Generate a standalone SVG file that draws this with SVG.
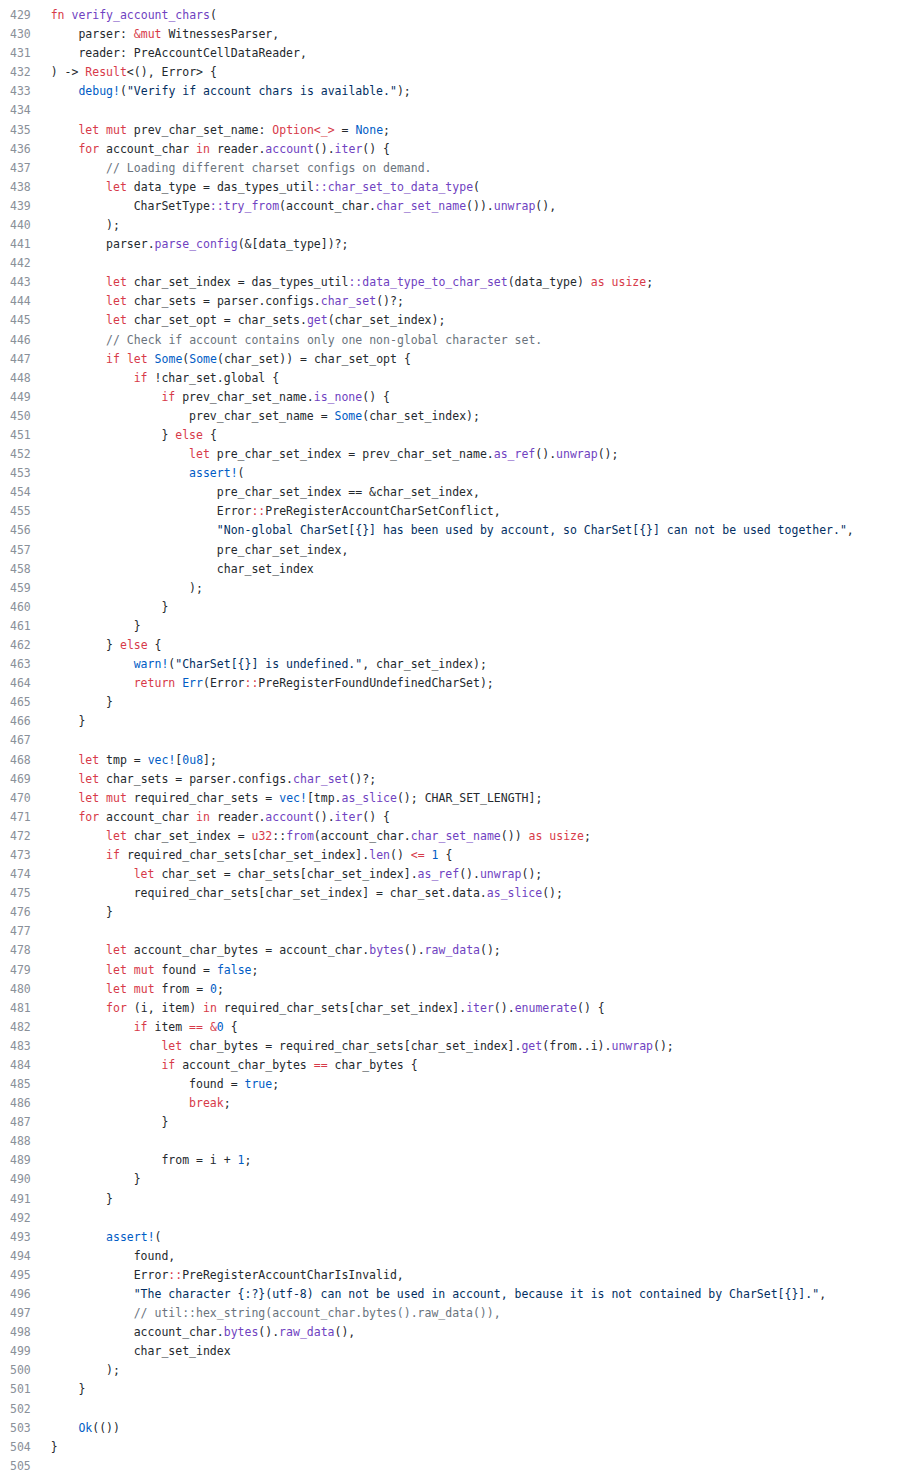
<svg xmlns="http://www.w3.org/2000/svg" width="922" height="1481" viewBox="0 0 922 1481">
<style>
text{font-family:"DejaVu Sans Mono","Liberation Mono",monospace;font-size:11.5px;white-space:pre;fill:#24292e}
.n{fill:#8a9099}
.k{fill:#d73a49}
.f{fill:#6f42c1}
.b{fill:#005cc5}
.s{fill:#032f62}
.cm{fill:#6a737d}
</style>
<rect width="922" height="1481" fill="#ffffff"/>
<g id="gutter">
<text class="n" x="10" y="19">429</text>
<text class="n" x="10" y="38.09">430</text>
<text class="n" x="10" y="57.18">431</text>
<text class="n" x="10" y="76.27">432</text>
<text class="n" x="10" y="95.36">433</text>
<text class="n" x="10" y="114.45">434</text>
<text class="n" x="10" y="133.54">435</text>
<text class="n" x="10" y="152.63">436</text>
<text class="n" x="10" y="171.72">437</text>
<text class="n" x="10" y="190.81">438</text>
<text class="n" x="10" y="209.9">439</text>
<text class="n" x="10" y="228.99">440</text>
<text class="n" x="10" y="248.08">441</text>
<text class="n" x="10" y="267.17">442</text>
<text class="n" x="10" y="286.26">443</text>
<text class="n" x="10" y="305.35">444</text>
<text class="n" x="10" y="324.44">445</text>
<text class="n" x="10" y="343.53">446</text>
<text class="n" x="10" y="362.62">447</text>
<text class="n" x="10" y="381.71">448</text>
<text class="n" x="10" y="400.8">449</text>
<text class="n" x="10" y="419.89">450</text>
<text class="n" x="10" y="438.98">451</text>
<text class="n" x="10" y="458.07">452</text>
<text class="n" x="10" y="477.16">453</text>
<text class="n" x="10" y="496.25">454</text>
<text class="n" x="10" y="515.34">455</text>
<text class="n" x="10" y="534.43">456</text>
<text class="n" x="10" y="553.52">457</text>
<text class="n" x="10" y="572.61">458</text>
<text class="n" x="10" y="591.7">459</text>
<text class="n" x="10" y="610.79">460</text>
<text class="n" x="10" y="629.88">461</text>
<text class="n" x="10" y="648.97">462</text>
<text class="n" x="10" y="668.06">463</text>
<text class="n" x="10" y="687.15">464</text>
<text class="n" x="10" y="706.24">465</text>
<text class="n" x="10" y="725.33">466</text>
<text class="n" x="10" y="744.42">467</text>
<text class="n" x="10" y="763.51">468</text>
<text class="n" x="10" y="782.6">469</text>
<text class="n" x="10" y="801.69">470</text>
<text class="n" x="10" y="820.78">471</text>
<text class="n" x="10" y="839.87">472</text>
<text class="n" x="10" y="858.96">473</text>
<text class="n" x="10" y="878.05">474</text>
<text class="n" x="10" y="897.14">475</text>
<text class="n" x="10" y="916.23">476</text>
<text class="n" x="10" y="935.32">477</text>
<text class="n" x="10" y="954.41">478</text>
<text class="n" x="10" y="973.5">479</text>
<text class="n" x="10" y="992.59">480</text>
<text class="n" x="10" y="1011.68">481</text>
<text class="n" x="10" y="1030.77">482</text>
<text class="n" x="10" y="1049.86">483</text>
<text class="n" x="10" y="1068.95">484</text>
<text class="n" x="10" y="1088.04">485</text>
<text class="n" x="10" y="1107.13">486</text>
<text class="n" x="10" y="1126.22">487</text>
<text class="n" x="10" y="1145.31">488</text>
<text class="n" x="10" y="1164.4">489</text>
<text class="n" x="10" y="1183.49">490</text>
<text class="n" x="10" y="1202.58">491</text>
<text class="n" x="10" y="1221.67">492</text>
<text class="n" x="10" y="1240.76">493</text>
<text class="n" x="10" y="1259.85">494</text>
<text class="n" x="10" y="1278.94">495</text>
<text class="n" x="10" y="1298.03">496</text>
<text class="n" x="10" y="1317.12">497</text>
<text class="n" x="10" y="1336.21">498</text>
<text class="n" x="10" y="1355.3">499</text>
<text class="n" x="10" y="1374.39">500</text>
<text class="n" x="10" y="1393.48">501</text>
<text class="n" x="10" y="1412.57">502</text>
<text class="n" x="10" y="1431.66">503</text>
<text class="n" x="10" y="1450.75">504</text>
<text class="n" x="10" y="1469.84">505</text>
</g>
<g id="code">
<text x="50.7" y="19"><tspan class="k">fn</tspan> <tspan class="f">verify_account_chars</tspan>(</text>
<text x="78.4" y="38.09">parser: <tspan class="k">&amp;mut</tspan> WitnessesParser,</text>
<text x="78.4" y="57.18">reader: PreAccountCellDataReader,</text>
<text x="50.7" y="76.27">) -&gt; <tspan class="k">Result</tspan>&lt;(), Error&gt; {</text>
<text x="78.4" y="95.36"><tspan class="b">debug!</tspan>(<tspan class="s">"Verify if account chars is available."</tspan>);</text>
<text x="78.4" y="133.54"><tspan class="k">let</tspan> <tspan class="k">mut</tspan> prev_char_set_name: <tspan class="k">Option&lt;_&gt;</tspan> = <tspan class="b">None</tspan>;</text>
<text x="78.4" y="152.63"><tspan class="k">for</tspan> account_char <tspan class="k">in</tspan> reader.<tspan class="f">account</tspan>().<tspan class="f">iter</tspan>() {</text>
<text x="106.1" y="171.72" class="cm">// Loading different charset configs on demand.</text>
<text x="106.1" y="190.81"><tspan class="k">let</tspan> data_type = das_types_util<tspan class="f">::char_set_to_data_type</tspan>(</text>
<text x="133.7" y="209.9">CharSetType<tspan class="f">::try_from</tspan>(account_char.<tspan class="f">char_set_name</tspan>()).<tspan class="f">unwrap</tspan>(),</text>
<text x="106.1" y="228.99">);</text>
<text x="106.1" y="248.08">parser.<tspan class="f">parse_config</tspan>(&amp;[data_type])?;</text>
<text x="106.1" y="286.26"><tspan class="k">let</tspan> char_set_index = das_types_util<tspan class="f">::data_type_to_char_set</tspan>(data_type) <tspan class="k">as</tspan> <tspan class="k">usize</tspan>;</text>
<text x="106.1" y="305.35"><tspan class="k">let</tspan> char_sets = parser.configs.<tspan class="f">char_set</tspan>()?;</text>
<text x="106.1" y="324.44"><tspan class="k">let</tspan> char_set_opt = char_sets.<tspan class="f">get</tspan>(char_set_index);</text>
<text x="106.1" y="343.53" class="cm">// Check if account contains only one non-global character set.</text>
<text x="106.1" y="362.62"><tspan class="k">if</tspan> <tspan class="k">let</tspan> <tspan class="b">Some</tspan>(<tspan class="b">Some</tspan>(char_set)) = char_set_opt {</text>
<text x="133.7" y="381.71"><tspan class="k">if</tspan> !char_set.global {</text>
<text x="161.4" y="400.8"><tspan class="k">if</tspan> prev_char_set_name.<tspan class="f">is_none</tspan>() {</text>
<text x="189.1" y="419.89">prev_char_set_name = <tspan class="b">Some</tspan>(char_set_index);</text>
<text x="161.4" y="438.98">} <tspan class="k">else</tspan> {</text>
<text x="189.1" y="458.07"><tspan class="k">let</tspan> pre_char_set_index = prev_char_set_name.<tspan class="f">as_ref</tspan>().<tspan class="f">unwrap</tspan>();</text>
<text x="189.1" y="477.16"><tspan class="b">assert!</tspan>(</text>
<text x="216.8" y="496.25">pre_char_set_index == &amp;char_set_index,</text>
<text x="216.8" y="515.34">Error<tspan class="k">::</tspan>PreRegisterAccountCharSetConflict,</text>
<text x="216.8" y="534.43"><tspan class="s">"Non-global CharSet[{}] has been used by account, so CharSet[{}] can not be used together."</tspan>,</text>
<text x="216.8" y="553.52">pre_char_set_index,</text>
<text x="216.8" y="572.61">char_set_index</text>
<text x="189.1" y="591.7">);</text>
<text x="161.4" y="610.79">}</text>
<text x="133.7" y="629.88">}</text>
<text x="106.1" y="648.97">} <tspan class="k">else</tspan> {</text>
<text x="133.7" y="668.06"><tspan class="b">warn!</tspan>(<tspan class="s">"CharSet[{}] is undefined."</tspan>, char_set_index);</text>
<text x="133.7" y="687.15"><tspan class="k">return</tspan> <tspan class="b">Err</tspan>(Error<tspan class="k">::</tspan>PreRegisterFoundUndefinedCharSet);</text>
<text x="106.1" y="706.24">}</text>
<text x="78.4" y="725.33">}</text>
<text x="78.4" y="763.51"><tspan class="k">let</tspan> tmp = <tspan class="b">vec!</tspan>[<tspan class="b">0u8</tspan>];</text>
<text x="78.4" y="782.6"><tspan class="k">let</tspan> char_sets = parser.configs.<tspan class="f">char_set</tspan>()?;</text>
<text x="78.4" y="801.69"><tspan class="k">let</tspan> <tspan class="k">mut</tspan> required_char_sets = <tspan class="b">vec!</tspan>[tmp.<tspan class="f">as_slice</tspan>(); CHAR_SET_LENGTH];</text>
<text x="78.4" y="820.78"><tspan class="k">for</tspan> account_char <tspan class="k">in</tspan> reader.<tspan class="f">account</tspan>().<tspan class="f">iter</tspan>() {</text>
<text x="106.1" y="839.87"><tspan class="k">let</tspan> char_set_index = <tspan class="k">u32</tspan>::<tspan class="f">from</tspan>(account_char.<tspan class="f">char_set_name</tspan>()) <tspan class="k">as</tspan> <tspan class="k">usize</tspan>;</text>
<text x="106.1" y="858.96"><tspan class="k">if</tspan> required_char_sets[char_set_index].<tspan class="f">len</tspan>() <tspan class="k">&lt;=</tspan> <tspan class="b">1</tspan> {</text>
<text x="133.7" y="878.05"><tspan class="k">let</tspan> char_set = char_sets[char_set_index].<tspan class="f">as_ref</tspan>().<tspan class="f">unwrap</tspan>();</text>
<text x="133.7" y="897.14">required_char_sets[char_set_index] = char_set.data.<tspan class="f">as_slice</tspan>();</text>
<text x="106.1" y="916.23">}</text>
<text x="106.1" y="954.41"><tspan class="k">let</tspan> account_char_bytes = account_char.<tspan class="f">bytes</tspan>().<tspan class="f">raw_data</tspan>();</text>
<text x="106.1" y="973.5"><tspan class="k">let</tspan> <tspan class="k">mut</tspan> found = <tspan class="b">false</tspan>;</text>
<text x="106.1" y="992.59"><tspan class="k">let</tspan> <tspan class="k">mut</tspan> from = <tspan class="b">0</tspan>;</text>
<text x="106.1" y="1011.68"><tspan class="k">for</tspan> (i, item) <tspan class="k">in</tspan> required_char_sets[char_set_index].<tspan class="f">iter</tspan>().<tspan class="f">enumerate</tspan>() {</text>
<text x="133.7" y="1030.77"><tspan class="k">if</tspan> item <tspan class="k">==</tspan> <tspan class="k">&amp;</tspan><tspan class="b">0</tspan> {</text>
<text x="161.4" y="1049.86"><tspan class="k">let</tspan> char_bytes = required_char_sets[char_set_index].<tspan class="f">get</tspan>(from..i).<tspan class="f">unwrap</tspan>();</text>
<text x="161.4" y="1068.95"><tspan class="k">if</tspan> account_char_bytes <tspan class="k">==</tspan> char_bytes {</text>
<text x="189.1" y="1088.04">found = <tspan class="b">true</tspan>;</text>
<text x="189.1" y="1107.13"><tspan class="k">break</tspan>;</text>
<text x="161.4" y="1126.22">}</text>
<text x="161.4" y="1164.4">from = i + <tspan class="b">1</tspan>;</text>
<text x="133.7" y="1183.49">}</text>
<text x="106.1" y="1202.58">}</text>
<text x="106.1" y="1240.76"><tspan class="b">assert!</tspan>(</text>
<text x="133.7" y="1259.85">found,</text>
<text x="133.7" y="1278.94">Error<tspan class="k">::</tspan>PreRegisterAccountCharIsInvalid,</text>
<text x="133.7" y="1298.03"><tspan class="s">"The character {:?}(utf-8) can not be used in account, because it is not contained by CharSet[{}]."</tspan>,</text>
<text x="133.7" y="1317.12" class="cm">// util::hex_string(account_char.bytes().raw_data()),</text>
<text x="133.7" y="1336.21">account_char.<tspan class="f">bytes</tspan>().<tspan class="f">raw_data</tspan>(),</text>
<text x="133.7" y="1355.3">char_set_index</text>
<text x="106.1" y="1374.39">);</text>
<text x="78.4" y="1393.48">}</text>
<text x="78.4" y="1431.66"><tspan class="b">Ok</tspan>(())</text>
<text x="50.7" y="1450.75">}</text>
</g>
</svg>
